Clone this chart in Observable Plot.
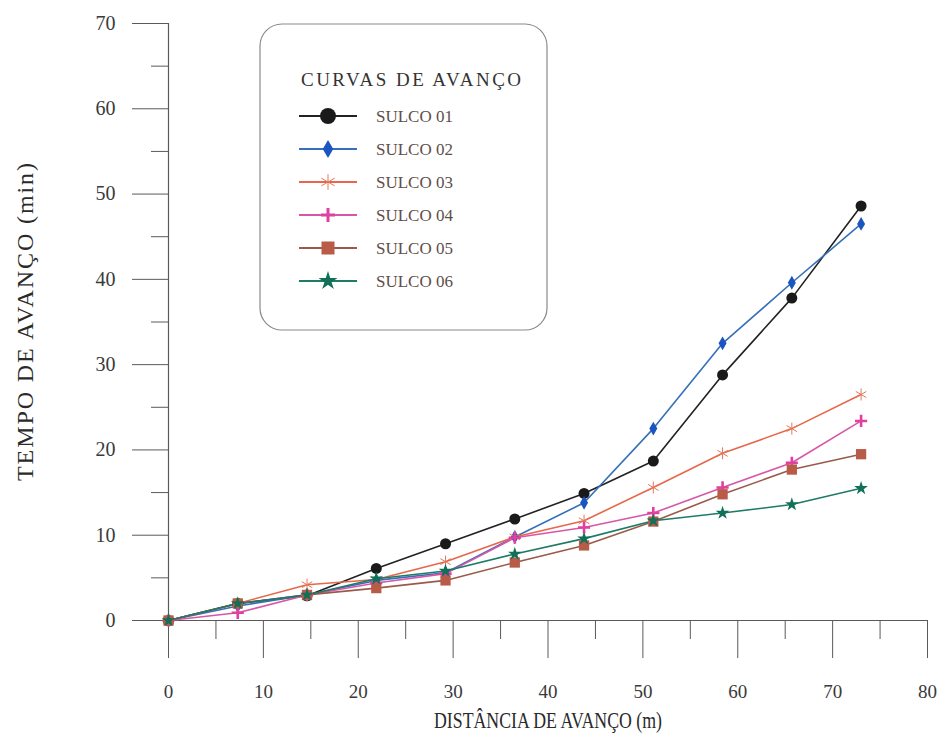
<!DOCTYPE html>
<html>
<head>
<meta charset="utf-8">
<script src="https://cdn.jsdelivr.net/npm/d3@7"></script>
<script src="https://cdn.jsdelivr.net/npm/@observablehq/plot@0.6"></script>
<style>
  html, body { margin: 0; padding: 0; background: #fff; }
  #chart svg { display: block; }
</style>
</head>
<body>
<div id="chart"></div>
<script>
// Distância de avanço (m) medida em cada estação
const distancia = [0, 7.3, 14.6, 21.9, 29.2, 36.5, 43.8, 51.1, 58.4, 65.7, 73];

// Tempo de avanço (min) por sulco
const sulco01 = [0, 2.0, 2.9, 6.1, 9.0, 11.9, 14.9, 18.7, 28.8, 37.8, 48.6];
const sulco02 = [0, 1.7, 3.0, 4.7, 5.6, 9.8, 13.8, 22.5, 32.5, 39.6, 46.5];
const sulco03 = [0, 2.0, 4.2, 4.8, 6.9, 9.8, 11.7, 15.6, 19.6, 22.5, 26.5];
const sulco04 = [0, 0.9, 3.0, 4.4, 5.5, 9.7, 10.9, 12.6, 15.6, 18.5, 23.4];
const sulco05 = [0, 2.0, 3.0, 3.8, 4.7, 6.8, 8.8, 11.6, 14.8, 17.7, 19.5];
const sulco06 = [0, 2.0, 3.0, 4.9, 5.8, 7.8, 9.6, 11.7, 12.6, 13.6, 15.5];

const nomes = ["SULCO 01", "SULCO 02", "SULCO 03", "SULCO 04", "SULCO 05", "SULCO 06"];
const valores = [sulco01, sulco02, sulco03, sulco04, sulco05, sulco06];

const xMajor = [0, 10, 20, 30, 40, 50, 60, 70, 80];
const xMinor = [5, 15, 25, 35, 45, 55, 65, 75];
const yMajor = [0, 10, 20, 30, 40, 50, 60, 70];
const yMinor = [5, 15, 25, 35, 45, 55, 65];

const tituloLegenda = "CURVAS DE AVANÇO";
const tituloX = "DISTÂNCIA DE AVANÇO (m)";
const tituloY = "TEMPO DE AVANÇO (min)";

// Estilo de cada série: cor da linha, símbolo e marcador (no gráfico e na legenda)
const estilos = [
  {line: "#222222", symbol: "circle",   fill: "#1a1a1a", stroke: "none",    r: 5.5, sw: 1,   legSize: 200},
  {line: "#3570b8", symbol: "diamond",  fill: "#1a55c0", stroke: "none",    r: 4.2, sw: 1,   legSize: 95},
  {line: "#e8664a", symbol: "asterisk", fill: "none",    stroke: "#e0785a", r: 5.7, sw: 1,   legSize: 170},
  {line: "#d856a8", symbol: "plus",     fill: "none",    stroke: "#e040a0", r: 4,   sw: 2.6, legSize: 66},
  {line: "#9a5a4a", symbol: "square",   fill: "#b85c48", stroke: "none",    r: 5.8, sw: 1,   legSize: 169},
  {line: "#1f7a66", symbol: "star",     fill: "#127058", stroke: "none",    r: 4.3, sw: 1,   legSize: 110}
];

const series = nomes.map((nome, i) =>
  distancia.map((d, j) => ({sulco: nome, distancia: d, tempo: valores[i][j]}))
);

const serif = "'Liberation Serif', 'DejaVu Serif', serif";
const axisColor = "#5a5a5a";

const marks = [];
// eixos: linhas base
marks.push(Plot.ruleY([0], {stroke: axisColor, strokeWidth: 1.2}));
marks.push(Plot.ruleX([0], {stroke: axisColor, strokeWidth: 1.2}));
// eixo x: marcas maiores com rótulos e menores sem rótulos
marks.push(Plot.axisX({ticks: xMajor, tickSize: 38, tickPadding: 26, stroke: axisColor,
  fontSize: 19, fontFamily: serif, fill: "#3a3a3a", label: null, tickFormat: d3.format("d")}));
marks.push(Plot.axisX({ticks: xMinor, tickSize: 19, text: null, stroke: axisColor, label: null}));
// eixo y
marks.push(Plot.axisY({ticks: yMajor, tickSize: 36, tickPadding: 17, stroke: axisColor,
  fontSize: 20, fontFamily: serif, fill: "#3a3a3a", label: null, tickFormat: d3.format("d")}));
marks.push(Plot.axisY({ticks: yMinor, tickSize: 17, text: null, stroke: axisColor, label: null}));

// títulos dos eixos
marks.push(Plot.text([tituloX], {frameAnchor: "bottom", dy: 107, fontSize: 23,
  fontFamily: serif, fill: "#2a2a2a", className: "titulo-x"}));
marks.push(Plot.text([tituloY], {frameAnchor: "left", dx: -143, rotate: -90, fontSize: 24,
  textAnchor: "middle", fontFamily: serif, fill: "#2a2a2a", className: "titulo-y"}));

// curvas e marcadores
series.forEach((dados, i) => {
  const e = estilos[i];
  marks.push(Plot.line(dados, {x: "distancia", y: "tempo", stroke: e.line, strokeWidth: 1.6}));
});
series.forEach((dados, i) => {
  const e = estilos[i];
  marks.push(Plot.dot(dados, {x: "distancia", y: "tempo", symbol: () => e.symbol, r: e.r,
    fill: e.fill, stroke: e.stroke, strokeWidth: e.sw}));
});

const chart = Plot.plot({
  width: 942,
  height: 737,
  marginLeft: 168,
  marginRight: 15,
  marginTop: 23,
  marginBottom: 117,
  style: {fontFamily: serif, background: "#fff", color: "#3a3a3a"},
  x: {domain: [0, 80]},
  y: {domain: [0, 70]},
  symbol: {type: "identity"},
  marks
});

document.getElementById("chart").appendChild(chart);

const svg = d3.select(chart);

// títulos dos eixos: largura ajustada ao traçado estreito do desenho
svg.selectAll(".titulo-x text").attr("textLength", 228).attr("lengthAdjust", "spacingAndGlyphs");
svg.selectAll(".titulo-y text").attr("textLength", 318).attr("lengthAdjust", "spacing");

// legenda interna com cantos arredondados
const leg = svg.append("g").attr("font-family", serif).attr("text-anchor", "start");
leg.append("rect")
  .attr("x", 260).attr("y", 24).attr("width", 287).attr("height", 306)
  .attr("rx", 22).attr("ry", 22)
  .attr("fill", "#fff").attr("stroke", "#8a8a8a").attr("stroke-width", 1.2);
leg.append("text")
  .attr("x", 301).attr("y", 86)
  .attr("font-size", 19).attr("fill", "#333")
  .attr("textLength", 220).attr("lengthAdjust", "spacing")
  .text(tituloLegenda);

const symbolTypes = {
  circle: d3.symbolCircle, diamond: d3.symbolDiamond, asterisk: d3.symbolAsterisk,
  plus: d3.symbolPlus, square: d3.symbolSquare, star: d3.symbolStar
};
nomes.forEach((nome, i) => {
  const e = estilos[i];
  const y = 116 + i * 33;
  const g = leg.append("g").attr("transform", `translate(0,${y})`);
  g.append("line").attr("x1", 299).attr("x2", 357).attr("y1", 0).attr("y2", 0)
    .attr("stroke", e.line).attr("stroke-width", 1.8);
  g.append("path")
    .attr("transform", "translate(328,0)")
    .attr("d", d3.symbol(symbolTypes[e.symbol], e.legSize)())
    .attr("fill", e.fill).attr("stroke", e.stroke)
    .attr("stroke-width", e.symbol === "plus" ? 3 : e.sw);
  g.append("text").attr("x", 376).attr("y", 5.5)
    .attr("font-size", 16.5).attr("fill", "#5e4e4a")
    .attr("textLength", 77).attr("lengthAdjust", "spacingAndGlyphs")
    .text(nome);
});
</script>
</body>
</html>
